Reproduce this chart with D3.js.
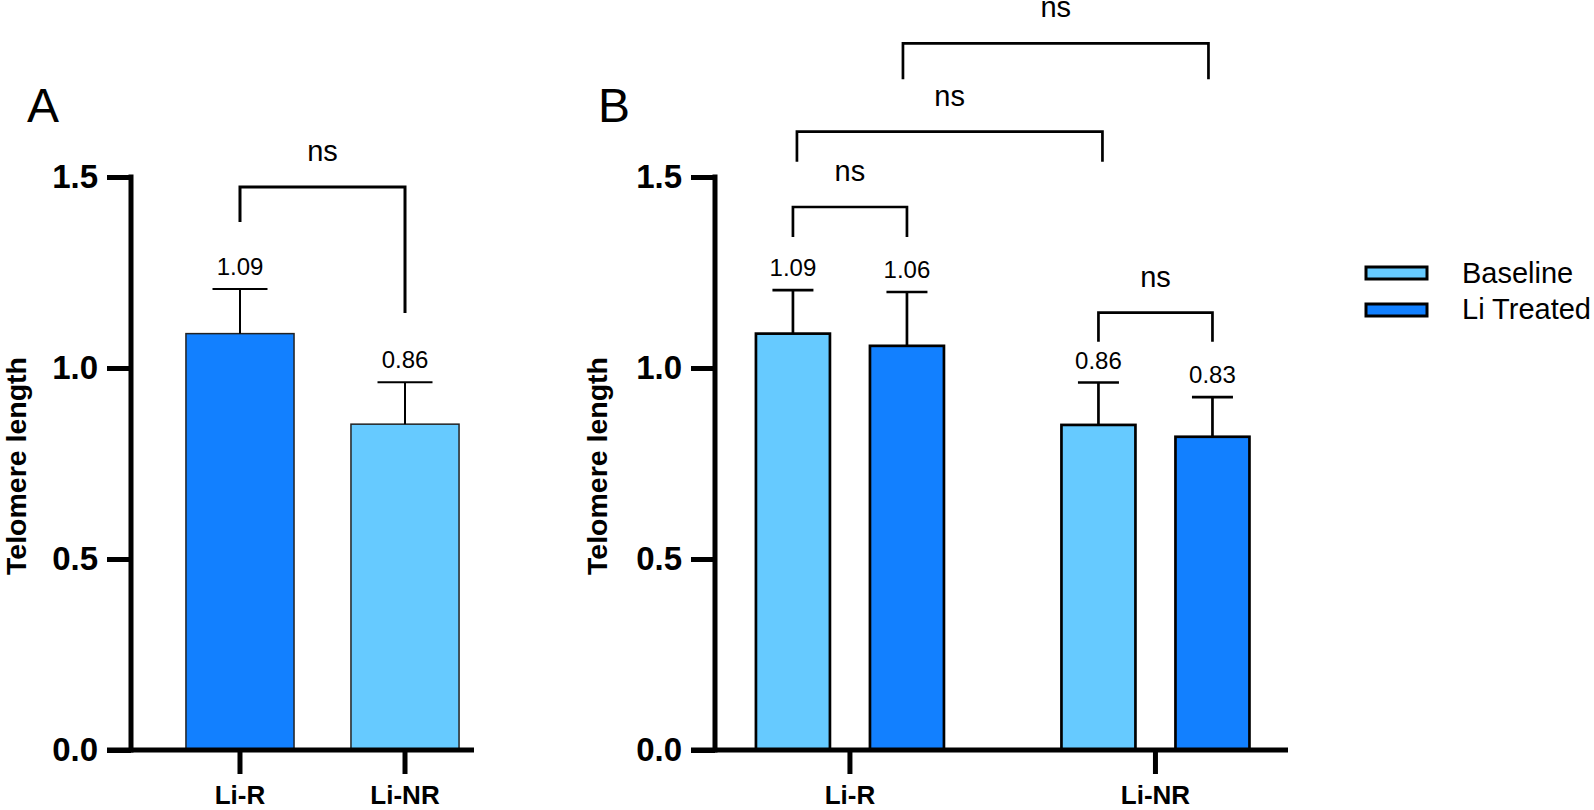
<!DOCTYPE html>
<html><head><meta charset="utf-8">
<script src="https://cdn.jsdelivr.net/npm/d3@7"></script>
<style>body{margin:0;background:#fff}svg{display:block}text{font-family:"Liberation Sans",Arial,Helvetica,sans-serif}</style>
</head><body><svg id="c" width="1594" height="810"></svg>
<script>
// ---- data ----
const yTicks = [0, 0.5, 1.0, 1.5];
const categories = ['Li-R', 'Li-NR'];
const seriesNames = ['Baseline', 'Li Treated'];
// Panel A
const meansA = [1.09, 0.853];
const errA = [0.117, 0.110];
const labelsA = ['1.09', '0.86'];
// Panel B
const baselineMeans = [1.09, 0.851];
const baselineErr = [0.114, 0.111];
const baselineLabels = ['1.09', '0.86'];
const treatedMeans = [1.058, 0.820];
const treatedErr = [0.141, 0.104];
const treatedLabels = ['1.06', '0.83'];
const sigText = 'ns';

// ---- styles ----
const LIGHT = '#66CAFF', DARK = '#1280FF';
const colorsA = [DARK, LIGHT];
const seriesColors = [LIGHT, DARK];

const svg = d3.select('#c');
const y = d3.scaleLinear().domain([0, 1.5]).range([750, 177]);

function drawAxes(axisX, xEnd, xScale, titleX) {
  const ya = d3.axisLeft(y).tickValues(yTicks).tickFormat(d3.format('.1f'))
    .tickSize(24).tickSizeOuter(0).tickPadding(9);
  const gy = svg.append('g').attr('transform', `translate(${axisX},0)`).call(ya);
  gy.select('.domain').remove();
  gy.selectAll('.tick line').attr('stroke', '#000').attr('stroke-width', 5);
  gy.selectAll('.tick text').attr('font-size', 33).attr('font-weight', 'bold').attr('fill', '#000');
  svg.append('line').attr('x1', axisX).attr('x2', axisX)
    .attr('y1', y(1.5) - 2.5).attr('y2', y(0) + 2.5)
    .attr('stroke', '#000').attr('stroke-width', 5);
  svg.append('line').attr('x1', axisX - 24).attr('x2', xEnd)
    .attr('y1', y(0)).attr('y2', y(0))
    .attr('stroke', '#000').attr('stroke-width', 5);
  const xa = d3.axisBottom(xScale).tickSize(24).tickSizeOuter(0);
  const gx = svg.append('g').attr('transform', `translate(0,${y(0)})`).call(xa);
  gx.select('.domain').remove();
  gx.selectAll('.tick line').attr('stroke', '#000').attr('stroke-width', 5);
  gx.selectAll('.tick text').attr('y', 54).attr('dy', 0).attr('font-size', 26)
    .attr('font-weight', 'bold').attr('fill', '#000');
  svg.append('text').attr('transform', `translate(${titleX},${466}) rotate(-90)`)
    .attr('text-anchor', 'middle').attr('font-size', 28.5).attr('font-weight', 'bold')
    .text('Telomere length');
}

function errorBar(cx, mean, err, capW, sw, label) {
  svg.append('line').attr('x1', cx).attr('x2', cx).attr('y1', y(mean)).attr('y2', y(mean + err))
    .attr('stroke', '#000').attr('stroke-width', sw);
  svg.append('line').attr('x1', cx - capW / 2).attr('x2', cx + capW / 2)
    .attr('y1', y(mean + err)).attr('y2', y(mean + err))
    .attr('stroke', '#000').attr('stroke-width', sw);
  svg.append('text').attr('x', cx).attr('y', y(mean + err) - 14)
    .attr('text-anchor', 'middle').attr('font-size', 24).text(label);
}

function bracket(x1, x2, yBar, yLeg1, yLeg2, sw) {
  svg.append('path')
    .attr('d', `M${x1},${y(yLeg1)}V${y(yBar)}H${x2}V${y(yLeg2)}`)
    .attr('fill', 'none').attr('stroke', '#000').attr('stroke-width', sw);
  svg.append('text').attr('x', (x1 + x2) / 2).attr('y', y(yBar) - 26)
    .attr('text-anchor', 'middle').attr('font-size', 29).text(sigText);
}

// ---- Panel A ----
const xA = d3.scaleBand().domain(categories).range([131, 514]).paddingInner(0.345).paddingOuter(0.333);
svg.append('g').selectAll('rect').data(categories).join('rect')
  .attr('x', d => xA(d)).attr('width', xA.bandwidth())
  .attr('y', (d, i) => y(meansA[i])).attr('height', (d, i) => y(0) - y(meansA[i]))
  .attr('fill', (d, i) => colorsA[i]).attr('stroke', '#222').attr('stroke-width', 1.5);
drawAxes(131, 474, xA, 26);
categories.forEach((c, i) => errorBar(xA(c) + xA.bandwidth() / 2, meansA[i], errA[i], 55, 2, labelsA[i]));
bracket(xA('Li-R') + xA.bandwidth() / 2, xA('Li-NR') + xA.bandwidth() / 2, 1.474, 1.382, 1.144, 3);
svg.append('text').attr('x', 27).attr('y', 122).attr('font-size', 48).text('A');

// ---- Panel B ----
const xB0 = d3.scaleBand().domain(categories).range([715, 1290.4]).paddingInner(0.3846).paddingOuter(0.134);
const xB1 = d3.scaleBand().domain(seriesNames).range([0, xB0.bandwidth()]).paddingInner(0.351);
const seriesMeans = [baselineMeans, treatedMeans];
const seriesErr = [baselineErr, treatedErr];
const seriesLabels = [baselineLabels, treatedLabels];
const barsB = [];
categories.forEach((c, i) => seriesNames.forEach((s, j) => barsB.push({ c, s, i, j })));
svg.append('g').selectAll('rect').data(barsB).join('rect')
  .attr('x', d => xB0(d.c) + xB1(d.s)).attr('width', xB1.bandwidth())
  .attr('y', d => y(seriesMeans[d.j][d.i])).attr('height', d => y(0) - y(seriesMeans[d.j][d.i]))
  .attr('fill', d => seriesColors[d.j]).attr('stroke', '#000').attr('stroke-width', 2.7);
drawAxes(715, 1288, xB0, 607);
const cxB = (c, s) => xB0(c) + xB1(s) + xB1.bandwidth() / 2;
barsB.forEach(d => errorBar(cxB(d.c, d.s), seriesMeans[d.j][d.i], seriesErr[d.j][d.i], 41, 2.7, seriesLabels[d.j][d.i]));
bracket(cxB('Li-R', 'Baseline'), cxB('Li-R', 'Li Treated'), 1.4215, 1.343, 1.343, 2.7);
bracket(cxB('Li-R', 'Baseline') + 4, cxB('Li-NR', 'Baseline') + 4, 1.6186, 1.540, 1.540, 2.7);
bracket(cxB('Li-R', 'Li Treated') - 4, cxB('Li-NR', 'Li Treated') - 4, 1.850, 1.756, 1.756, 2.7);
bracket(cxB('Li-NR', 'Baseline'), cxB('Li-NR', 'Li Treated'), 1.1448, 1.069, 1.069, 2.7);
svg.append('text').attr('x', 598).attr('y', 122).attr('font-size', 48).text('B');

// ---- Legend ----
const lg = svg.append('g');
seriesNames.forEach((s, j) => {
  lg.append('rect').attr('x', 1366).attr('y', 267 + j * 37).attr('width', 61).attr('height', 12)
    .attr('fill', seriesColors[j]).attr('stroke', '#000').attr('stroke-width', 3);
  lg.append('text').attr('x', 1462).attr('y', 283 + j * 36).attr('font-size', 29).text(s);
});
</script></body></html>
